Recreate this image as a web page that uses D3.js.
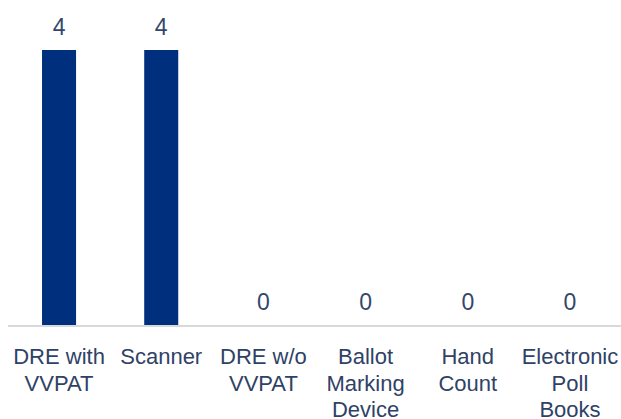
<!DOCTYPE html>
<html>
<head>
<meta charset="utf-8">
<script src="https://cdn.jsdelivr.net/npm/d3@7"></script>
<style>
  body { margin: 0; background: #fff; }
  svg { display: block; font-family: "Liberation Sans", Arial, sans-serif; }
</style>
</head>
<body>
<div id="chart"></div>
<script>
const categories = [
  ['DRE with', 'VVPAT'],
  ['Scanner'],
  ['DRE w/o', 'VVPAT'],
  ['Ballot', 'Marking', 'Device'],
  ['Hand', 'Count'],
  ['Electronic', 'Poll', 'Books']
];
const values = [4, 4, 0, 0, 0, 0];

const width = 621, height = 419;
const margin = { top: 50, right: 0, bottom: 94, left: 8 };
const baseline = height - margin.bottom;

const svg = d3.select('#chart').append('svg')
  .attr('width', width)
  .attr('height', height);

const x = d3.scaleBand()
  .domain(d3.range(categories.length))
  .range([margin.left, width - margin.right])
  .paddingInner(0.667)
  .paddingOuter(0.333);

const y = d3.scaleLinear()
  .domain([0, 4])
  .range([baseline, margin.top]);

// bars
svg.selectAll('.bar')
  .data(values)
  .join('rect')
  .attr('class', 'bar')
  .attr('x', (d, i) => x(i))
  .attr('y', d => y(d))
  .attr('width', x.bandwidth())
  .attr('height', d => baseline - y(d))
  .attr('fill', '#002f7d');

// baseline
svg.append('line')
  .attr('x1', margin.left)
  .attr('x2', width - margin.right)
  .attr('y1', baseline + 1)
  .attr('y2', baseline + 1)
  .attr('stroke', '#d9d9d9')
  .attr('stroke-width', 2);

// value labels
svg.selectAll('.val')
  .data(values)
  .join('text')
  .attr('class', 'val')
  .attr('x', (d, i) => x(i) + x.bandwidth() / 2)
  .attr('y', d => y(d) - 15)
  .attr('text-anchor', 'middle')
  .attr('font-size', 23)
  .attr('fill', '#34476b')
  .text(d => d);

// category labels
const cat = svg.selectAll('.cat')
  .data(categories)
  .join('text')
  .attr('class', 'cat')
  .attr('text-anchor', 'middle')
  .attr('font-size', 22)
  .attr('fill', '#2f4266')
  .attr('transform', (d, i) => `translate(${x(i) + x.bandwidth() / 2},${baseline + 39})`);

cat.selectAll('tspan')
  .data(d => d)
  .join('tspan')
  .attr('x', 0)
  .attr('y', (d, j) => j * 26.7)
  .text(d => d);
</script>
</body>
</html>
